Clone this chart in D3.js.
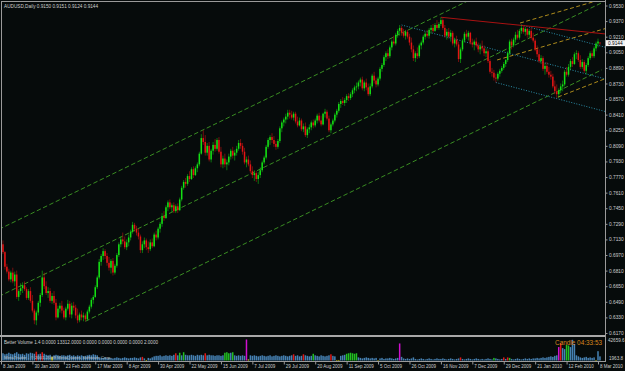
<!DOCTYPE html>
<html>
<head>
<meta charset="utf-8">
<script src="https://cdn.jsdelivr.net/npm/d3@7"></script>
<style>
  body { margin: 0; background: #000; }
  svg { display: block; }
  text { font-family: "Liberation Sans", Arial, sans-serif; }
</style>
</head>
<body>
<div id="chart"></div>
<script>
// ---------- data (prices in pips, volume in thousands) ----------
const opens = [
  7150,7080,7000,6850,6800,6720,6790,6700,6770,6540, 6600,6630,6660,6620,6530,6600,6500,6400,6300,6380,
  6480,6560,6740,6650,6580,6600,6500,6550,6480,6330, 6420,6450,6400,6330,6420,6470,6360,6450,6430,6350,
  6300,6360,6330,6350,6310,6390,6440,6510,6540,6640, 6740,6900,6960,7010,6960,6890,6840,6910,6790,6860,
  6970,7080,7130,7110,7050,7100,7150,7210,7280,7240, 7200,7160,7020,7080,7120,7050,7030,7100,7060,7180,
  7150,7240,7290,7370,7350,7460,7510,7460,7480,7420, 7470,7430,7540,7660,7720,7700,7780,7750,7850,7790,
  7860,7900,8010,8170,8130,8020,8090,7950,8040,8100, 8060,8150,8030,7900,7960,7900,7920,7980,8040,7990,
  8020,8060,8120,8090,8030,7920,7950,7900,7830,7790, 7810,7750,7790,7840,7920,7970,8080,8150,8180,8150,
  8110,8080,8140,8270,8330,8360,8390,8430,8410,8380, 8420,8340,8300,8350,8260,8290,8200,8260,8280,8330,
  8300,8350,8400,8350,8310,8420,8440,8370,8250,8310, 8350,8410,8450,8520,8550,8530,8560,8600,8580,8620,
  8660,8690,8700,8740,8770,8680,8740,8690,8620,8700, 8810,8760,8720,8780,8880,8920,9000,9040,9010,9100,
  9160,9140,9230,9270,9300,9250,9220,9260,9210,9150, 9080,8990,9040,9010,9120,9150,9210,9240,9220,9280,
  9300,9270,9330,9300,9340,9380,9300,9220,9260,9210, 9250,9140,9180,9130,8980,9080,9170,9240,9210,9250,
  9150,9130,9160,9120,9080,9110,9090,9040,9060,8960, 8850,8840,8790,8780,8830,8860,8890,8930,8970,9040,
  9160,9120,9180,9230,9200,9270,9300,9260,9290,9230, 9270,9200,9170,9080,9030,8960,8990,8880,8910,8850,
  8820,8800,8700,8650,8620,8660,8700,8720,8850,8820, 8900,8960,8930,9030,9040,8970,8900,8950,8860,8920,
  8990,9040,9010,9090,9140,9150
];
const highs = [
  7190,7120,7010,6880,6830,6810,6840,6800,6810,6620, 6680,6690,6700,6640,6620,6640,6560,6420,6400,6500,
  6580,6810,6790,6700,6640,6630,6580,6600,6520,6450, 6480,6500,6430,6440,6510,6500,6480,6490,6460,6420,
  6380,6400,6380,6370,6410,6460,6530,6560,6660,6760, 6930,6980,7040,7030,6990,6950,6930,6940,6880,6990,
  7100,7160,7200,7160,7130,7180,7230,7310,7300,7270, 7240,7180,7110,7150,7140,7110,7130,7140,7200,7220,
  7260,7310,7400,7420,7480,7530,7540,7500,7510,7490, 7500,7560,7680,7740,7760,7800,7830,7870,7880,7880,
  7920,8030,8210,8250,8200,8120,8130,8060,8130,8160, 8170,8180,8080,7990,8010,7950,8010,8060,8080,8050,
  8090,8150,8160,8120,8070,7980,7990,7940,7880,7840, 7830,7820,7870,7940,7990,8100,8170,8200,8220,8190,
  8140,8160,8290,8350,8380,8420,8460,8460,8450,8440, 8440,8390,8380,8370,8320,8330,8280,8310,8350,8360,
  8370,8420,8430,8400,8430,8470,8460,8400,8330,8370, 8430,8470,8540,8570,8590,8580,8620,8630,8640,8680,
  8710,8740,8760,8790,8800,8760,8780,8730,8730,8830, 8850,8790,8800,8900,8940,9020,9060,9080,9120,9180,
  9220,9250,9290,9330,9320,9290,9280,9280,9240,9200, 9120,9060,9100,9140,9170,9230,9260,9280,9300,9330,
  9340,9350,9380,9360,9410,9400,9330,9290,9300,9280, 9270,9200,9220,9160,9100,9190,9260,9280,9270,9260,
  9190,9180,9200,9150,9140,9170,9120,9090,9080,8980, 8890,8870,8830,8850,8880,8910,8950,8980,9060,9180,
  9190,9200,9260,9280,9290,9330,9320,9310,9300,9290, 9300,9250,9190,9120,9080,9020,9010,8940,8950,8900,
  8860,8830,8760,8720,8680,8730,8760,8870,8900,8930, 8980,9000,9050,9070,9060,9020,8980,8970,8940,9010,
  9060,9070,9110,9160,9190,9151
];
const lows = [
  7060,6980,6820,6780,6700,6690,6680,6650,6520,6500, 6560,6580,6600,6510,6510,6480,6380,6260,6250,6350,
  6440,6540,6620,6560,6530,6480,6470,6460,6300,6320, 6380,6370,6310,6300,6400,6330,6320,6400,6320,6270,
  6280,6300,6290,6290,6300,6370,6420,6470,6530,6620, 6720,6860,6920,6930,6860,6810,6780,6760,6770,6840,
  6950,7050,7080,7030,7020,7060,7120,7190,7210,7170, 7130,6990,6990,7040,7020,6990,7010,7040,7050,7120,
  7130,7200,7260,7320,7340,7420,7440,7410,7400,7400, 7400,7420,7520,7640,7660,7680,7720,7740,7760,7780,
  7820,7880,8000,8100,7990,7990,7930,7920,8000,8030, 8040,8010,7870,7860,7870,7840,7890,7950,7960,7940,
  7990,8040,8060,8000,7900,7870,7880,7810,7760,7730, 7720,7700,7760,7820,7900,7950,8060,8100,8120,8080,
  8050,8060,8120,8230,8290,8320,8360,8370,8360,8350, 8320,8280,8290,8240,8230,8180,8170,8220,8250,8270,
  8280,8320,8330,8290,8300,8380,8350,8230,8220,8290, 8330,8380,8430,8480,8510,8500,8530,8550,8560,8590,
  8630,8650,8670,8700,8660,8650,8660,8600,8600,8680, 8730,8690,8700,8760,8850,8900,8960,8980,8990,9070,
  9120,9120,9200,9220,9220,9200,9180,9190,9120,9050, 8960,8950,8980,8990,9080,9130,9180,9200,9190,9240,
  9250,9260,9280,9280,9320,9280,9200,9180,9190,9160, 9120,9100,9110,8950,8940,9060,9150,9190,9170,9130,
  9100,9070,9100,9050,9030,9060,9010,9000,8940,8830, 8800,8760,8740,8760,8800,8840,8870,8900,8950,9020,
  9080,9100,9150,9180,9180,9240,9240,9220,9200,9200, 9180,9150,9060,9000,8940,8930,8860,8820,8830,8790,
  8770,8680,8620,8580,8580,8630,8650,8700,8800,8800, 8870,8900,8920,8980,8950,8880,8880,8840,8820,8900,
  8970,8990,8990,9060,9100,9124
];
const closes = [
  7080,7000,6850,6800,6720,6790,6700,6770,6540,6600, 6630,6660,6620,6530,6600,6500,6400,6300,6380,6480,
  6560,6740,6650,6580,6600,6500,6550,6480,6330,6420, 6450,6400,6330,6420,6470,6360,6450,6430,6350,6300,
  6360,6330,6350,6310,6390,6440,6510,6540,6640,6740, 6900,6960,7010,6960,6890,6840,6910,6790,6860,6970,
  7080,7130,7110,7050,7100,7150,7210,7280,7240,7200, 7160,7020,7080,7120,7050,7030,7100,7060,7180,7150,
  7240,7290,7370,7350,7460,7510,7460,7480,7420,7470, 7430,7540,7660,7720,7700,7780,7750,7850,7790,7860,
  7900,8010,8170,8130,8020,8090,7950,8040,8100,8060, 8150,8030,7900,7960,7900,7920,7980,8040,7990,8020,
  8060,8120,8090,8030,7920,7950,7900,7830,7790,7810, 7750,7790,7840,7920,7970,8080,8150,8180,8150,8110,
  8080,8140,8270,8330,8360,8390,8430,8410,8380,8420, 8340,8300,8350,8260,8290,8200,8260,8280,8330,8300,
  8350,8400,8350,8310,8420,8440,8370,8250,8310,8350, 8410,8450,8520,8550,8530,8560,8600,8580,8620,8660,
  8690,8700,8740,8770,8680,8740,8690,8620,8700,8810, 8760,8720,8780,8880,8920,9000,9040,9010,9100,9160,
  9140,9230,9270,9300,9250,9220,9260,9210,9150,9080, 8990,9040,9010,9120,9150,9210,9240,9220,9280,9300,
  9270,9330,9300,9340,9380,9300,9220,9260,9210,9250, 9140,9180,9130,8980,9080,9170,9240,9210,9250,9150,
  9130,9160,9120,9080,9110,9090,9040,9060,8960,8850, 8840,8790,8780,8830,8860,8890,8930,8970,9040,9160,
  9120,9180,9230,9200,9270,9300,9260,9290,9230,9270, 9200,9170,9080,9030,8960,8990,8880,8910,8850,8820,
  8800,8700,8650,8620,8660,8700,8720,8850,8820,8900, 8960,8930,9030,9040,8970,8900,8950,8860,8920,8990,
  9040,9010,9090,9140,9160,9144
];
const volumes = [
  15,16,14,15,17,15,14,16,18,15,14,15,13,16,15,17,
  16,15,19,14,15,18,15,13,12,13,9,12,13,12,11,12,
  12,11,12,13,11,12,10,12,11,12,10,11,12,13,12,14,
  13,12,8,7,7,8,6,7,7,6,7,8,7,6,7,8,
  7,6,7,7,8,7,6,8,9,6,3,7,6,8,10,11,
  11,12,10,11,12,11,12,11,13,16,12,17,12,18,13,12,
  12,13,12,11,13,12,13,12,16,12,13,12,12,11,12,12,
  11,12,17,18,16,17,18,12,11,12,11,12,11,42.66,4,12,
  11,12,11,10,11,12,11,10,11,12,10,11,12,11,10,11,
  12,11,10,11,12,14,11,12,10,11,14,12,11,10,11,15,
  12,11,10,12,11,10,11,12,14,11,10,3,3,11,12,13,
  15,16,17,16,15,16,8,7,6,7,8,7,6,7,6,7,
  2,6,7,5,6,6,7,6,5,6,7,35,9,6,5,6,
  5,6,8,5,4,5,6,5,4,5,6,5,4,5,6,5,
  5,6,5,4,5,6,5,4,5,6,8,5,4,5,6,5,
  4,5,6,5,4,5,4,5,6,5,4,7,6,5,4,5,
  8,5,8,7,5,4,5,6,5,4,5,6,5,6,5,6,
  6,7,6,7,8,7,8,9,10,9,11,12,28,36,26,24,
  32,31,28,42,34,12,10,8,7,8,9,7,8,7,8,3,
  20,10
];
// Better Volume colour classes (bar indices)
const climaxUpBars = [18,21,72,89,104,149,154,168,234,256,258,285];
const churnBars = [91,93,114,115,116,118,159,176,177,178,179,180,181,251,259,288,289];
const lowVolBars = [26,74,126,171,172,192,303];
const climaxChurnBars = [125,203,284];

const dateLabels = ["8 Jan 2009","30 Jan 2009","23 Feb 2009","17 Mar 2009","8 Apr 2009","30 Apr 2009",
  "22 May 2009","15 Jun 2009","7 Jul 2009","29 Jul 2009","20 Aug 2009","11 Sep 2009","5 Oct 2009",
  "26 Oct 2009","16 Nov 2009","7 Dec 2009","29 Dec 2009","21 Jan 2010","12 Feb 2010","8 Mar 2010"];
const dateTickBars = [0,16,32,48,64,80,96,112,128,144,160,176,192,208,224,240,256,272,288,304];
const priceTicks = [9530,9370,9210,9050,8890,8730,8570,8410,8250,8090,7930,7770,7610,7450,7290,
  7130,6970,6810,6650,6490,6330,6170];
const volTickLabels = ["42659.6", "1963.8"];

// trend objects: [[bar, price], [bar, price]]
const greenChannel = [
  [[-1, 7234], [306, 10247]],
  [[-1, 6546], [306, 9559]],
  [[43, 6290], [306, 8871]]
];
const cyanLines = [
  [[204, 9330], [308, 8775]],
  [[252, 8740], [308, 8441]],
  [[265, 9330], [308, 9100]]
];
const yellowLines = [
  [[252.6, 8971], [308, 9295]],
  [[264.3, 9350], [308, 9605]],
  [[283.6, 8591], [308, 8782]]
];
const redLine = [[224, 9410], [308, 9238]];

// ---------- setup ----------
const W = 625, H = 371;
const svg = d3.select("#chart").append("svg")
  .attr("width", W).attr("height", H);
svg.append("rect").attr("width", W).attr("height", H).attr("fill", "#060b0b");

const axisX = 605.5;
const x = d3.scaleLinear().domain([0, 304]).range([1, 598]);
const y = d3.scaleLinear().domain([6170, 9530]).range([333, 5.5]);
const yVol = d3.scaleLinear().domain([1.9638, 42.6596]).range([360.5, 339.5]);

const bars = d3.range(closes.length);

svg.append("clipPath").attr("id", "main-clip")
  .append("rect").attr("x", 2).attr("y", 2).attr("width", axisX - 2).attr("height", 333);
svg.append("clipPath").attr("id", "vol-clip")
  .append("rect").attr("x", 2).attr("y", 338).attr("width", axisX - 2).attr("height", 23);

// ---------- main panel ----------
const main = svg.append("g").attr("clip-path", "url(#main-clip)");

function drawLines(list, color, dash, width) {
  main.selectAll(null).data(list).enter().append("line")
    .attr("x1", d => x(d[0][0])).attr("y1", d => y(d[0][1]))
    .attr("x2", d => x(d[1][0])).attr("y2", d => y(d[1][1]))
    .attr("stroke", color).attr("stroke-width", width)
    .attr("stroke-dasharray", dash);
}
drawLines(greenChannel, "#3f9c26", "4.5,2.5", 0.9);
drawLines(yellowLines, "#c09a1e", "4,2.5", 0.9);
drawLines(cyanLines, "#2b8ea8", "1,1.6", 1);
drawLines([redLine], "#a81212", null, 1.1);

const upColor = "#14e014", downColor = "#e41414";
const candle = main.selectAll("g.candle").data(bars).enter().append("g");
candle.append("line")
  .attr("x1", i => x(i)).attr("x2", i => x(i))
  .attr("y1", i => y(highs[i])).attr("y2", i => y(lows[i]))
  .attr("stroke", i => closes[i] >= opens[i] ? upColor : downColor)
  .attr("stroke-opacity", 0.55).attr("stroke-width", 0.9);
candle.append("rect")
  .attr("x", i => x(i) - 0.75).attr("width", 1.5)
  .attr("y", i => y(Math.max(opens[i], closes[i])))
  .attr("height", i => Math.max(0.8, Math.abs(y(opens[i]) - y(closes[i]))))
  .attr("fill", i => closes[i] >= opens[i] ? upColor : downColor);

// ---------- volume panel ----------
const volColor = i => climaxChurnBars.includes(i) ? "#d010d0"
  : climaxUpBars.includes(i) ? "#e01818"
  : churnBars.includes(i) ? "#22c022"
  : lowVolBars.includes(i) ? "#e8e020" : "#4682b4";
svg.append("g").attr("clip-path", "url(#vol-clip)")
  .selectAll("rect").data(bars).enter().append("rect")
  .attr("x", i => x(i) - 0.75).attr("width", 1.5)
  .attr("y", i => yVol(volumes[i]))
  .attr("height", i => Math.max(0.6, yVol.range()[0] - yVol(volumes[i])))
  .attr("fill", volColor);

// ---------- frames ----------
const frame = "#9a9a9a";
svg.append("line").attr("x1", 1.5).attr("x2", 1.5).attr("y1", 1).attr("y2", 362).attr("stroke", frame);
svg.append("line").attr("x1", 1).attr("x2", axisX).attr("y1", 1.5).attr("y2", 1.5).attr("stroke", frame);
svg.append("rect").attr("x", 0).attr("y", 335).attr("width", axisX).attr("height", 2).attr("fill", "#a8a8a8");

// ---------- axes ----------
const labelColor = "#cfcfcf";
const yAxis = svg.append("g").attr("transform", `translate(${axisX},0)`)
  .call(d3.axisRight(y).tickValues(priceTicks).tickSize(2).tickPadding(1.5)
    .tickFormat(v => (v / 1e4).toFixed(4)));
yAxis.select(".domain").attr("stroke", frame).attr("d", "M0,0V362");
yAxis.selectAll("line").attr("stroke", frame);
yAxis.selectAll("text").attr("fill", labelColor).style("font-size", "4.8px");

const xAxis = svg.append("g").attr("transform", "translate(0,361.5)")
  .call(d3.axisBottom(x).tickValues(dateTickBars).tickSize(3).tickSizeOuter(0)
    .tickFormat((d, k) => dateLabels[k]));
xAxis.select(".domain").attr("stroke", frame).attr("d", `M0,0H${axisX}`);
xAxis.selectAll("line").attr("stroke", frame);
xAxis.selectAll("text").attr("fill", labelColor).style("font-size", "4.5px")
  .attr("text-anchor", "start").attr("dx", 1.5).attr("y", 3.2).attr("dy", "0.71em");

// volume scale labels
svg.append("text").attr("x", 608).attr("y", 341.5).attr("fill", labelColor)
  .style("font-size", "4.6px").text(volTickLabels[0]);
svg.append("text").attr("x", 609).attr("y", 359.5).attr("fill", labelColor)
  .style("font-size", "4.6px").text(volTickLabels[1]);

// current price marker
const last = closes[closes.length - 1];
svg.append("rect").attr("x", 606).attr("y", y(last) - 3).attr("width", 19).attr("height", 6)
  .attr("fill", "#f4f4f4");
svg.append("text").attr("x", 608).attr("y", y(last) + 1.7).attr("fill", "#000")
  .style("font-size", "4.8px").text((last / 1e4).toFixed(4));

// ---------- titles ----------
svg.append("text").attr("x", 4).attr("y", 8).attr("fill", labelColor).style("font-size", "4.7px")
  .text("AUDUSD,Daily  0.9150 0.9151 0.9124 0.9144");
svg.append("text").attr("x", 4).attr("y", 344).attr("fill", labelColor).style("font-size", "4.6px")
  .text("Better Volume 1.4 0.0000 13312.0000 0.0000 0.0000 0.0000 0.0000 2.0000");
svg.append("text").attr("x", 4).attr("y", 359).attr("fill", "#b8c4cc").style("font-size", "4.4px")
  .text("MetaTrader - \u00a9 2001-2009 MetaQuotes Software Corp.");
svg.append("text").attr("x", 602).attr("y", 345).attr("fill", "#d8861c").attr("text-anchor", "end")
  .style("font-size", "6.4px").text("Candle  04:33:53");
</script>
</body>
</html>
